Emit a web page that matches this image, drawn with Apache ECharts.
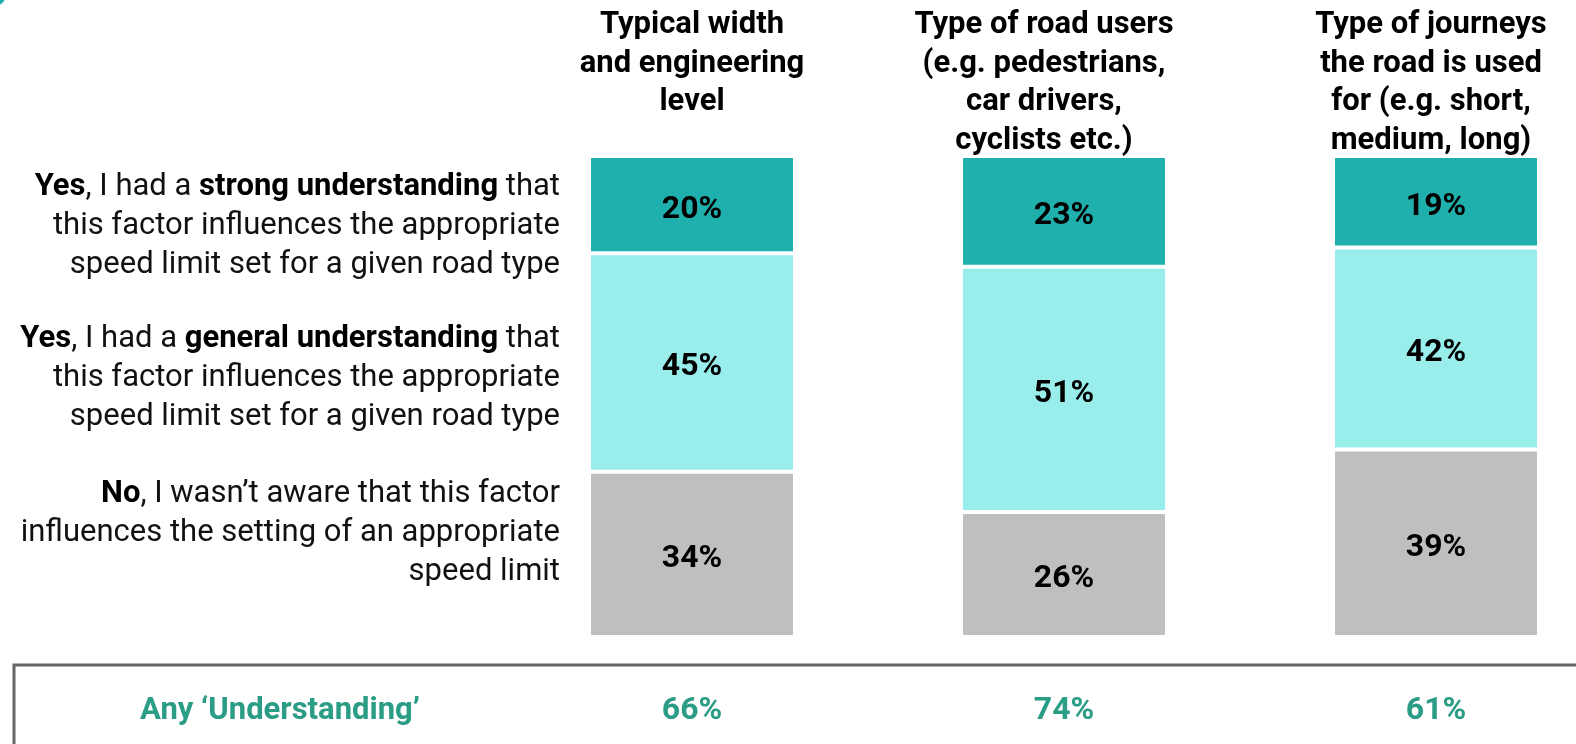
<!DOCTYPE html>
<html>
<head>
<meta charset="utf-8">
<title>Understanding of speed limit factors</title>
<script src="https://cdn.jsdelivr.net/npm/echarts@6/dist/echarts.min.js"></script>
<style>
	html, body { margin: 0; padding: 0; background: #fff; }
	#chart { width: 1576px; height: 744px; }
</style>
</head>
<body>
<div id="chart"></div>
<script>
	"use strict";

	// ______________ DATA
	var categories = [
		'Typical width\nand engineering\nlevel',
		'Type of road users\n(e.g. pedestrians,\ncar drivers,\ncyclists etc.)',
		'Type of journeys\nthe road is used\nfor (e.g. short,\nmedium, long)'
	];
	var strongVals = [20, 23, 19];
	var generalVals = [45, 51, 42];
	var noVals = [34, 26, 39];
	var anyVals = [66, 74, 61];

	var legendTexts = [
		'{b|Yes}, I had a {b|strong understanding} that\nthis factor influences the appropriate\nspeed limit set for a given road type',
		'{b|Yes}, I had a {b|general understanding} that\nthis factor influences the appropriate\nspeed limit set for a given road type',
		'{b|No}, I wasn\u2019t aware that this factor\ninfluences the setting of an appropriate\nspeed limit'
	];

	var TEAL = '#1fb0ae';
	var LIGHT = '#99eeec';
	var GREY = '#bfbfbf';
	var GREEN = '#2b9c85';
	var FONT = 'Roboto, "Noto Sans", sans-serif';

	// ______________ 100% stacking (each bar fills the full height)
	function shares(vals, idx) {
		var total = strongVals[idx] + generalVals[idx] + noVals[idx];
		return vals[idx] / total * 100;
	}

	function makeSeries(name, vals, color) {
		return {
			name: name,
			type: 'bar',
			stack: 'all',
			barWidth: 206,
			data: vals.map(function(v, i) { return shares(vals, i); }),
			itemStyle: { color: color, borderColor: '#fff', borderWidth: 2 },
			label: {
				show: true,
				position: 'inside',
				offset: [0, 5],
				fontFamily: FONT,
				fontSize: 32,
				fontWeight: 'bold',
				color: '#000',
				formatter: function(p) { return vals[p.dataIndex] + '%'; }
			},
			emphasis: { disabled: true }
		};
	}

	// header of the middle column sits a bit left of its bar
	var headerPad = [0, 40, 10];
	var headerData = categories.map(function(c, i) {
		return {
			value: c,
			textStyle: { verticalAlign: 'top', padding: [0, headerPad[i], 0, 0] }
		};
	});

	var chart = echarts.init(document.getElementById('chart'), null, { renderer: 'canvas' });

	var richLegend = {
		b: { fontFamily: FONT, fontSize: 31, fontWeight: 'bold', fill: '#000', lineHeight: 39 },
	};

	var legendY = [226, 378, 533];

	chart.setOption({
		animation: false,
		grid: { left: 506, right: -46, top: 156, bottom: 107, outerBoundsMode: 'none' },
		xAxis: [{
			type: 'category',
			position: 'top',
			data: headerData,
			axisLine: { show: false },
			axisTick: { show: false },
			axisLabel: {
				interval: 0,
				margin: 150,
				verticalAlign: 'top',
				fontFamily: FONT,
				fontSize: 31,
				fontWeight: 'bold',
				lineHeight: 38.5,
				color: '#000'
			}
		}, {
			type: 'category',
			position: 'bottom',
			data: anyVals.map(function(v) { return v + '%'; }),
			axisLine: { show: false },
			axisTick: { show: false },
			axisLabel: {
				interval: 0,
				margin: 74,
				verticalAlign: 'middle',
				fontFamily: FONT,
				fontSize: 32,
				fontWeight: 'bold',
				color: GREEN
			}
		}],
		yAxis: {
			type: 'value',
			min: 0,
			max: 100,
			show: false
		},
		series: [
			makeSeries('No', noVals, GREY),
			makeSeries('General', generalVals, LIGHT),
			makeSeries('Strong', strongVals, TEAL)
		],
		graphic: [
			// corner mark
			{ type: 'circle', shape: { cx: -3, cy: -3, r: 8 }, style: { fill: TEAL } },
			// bottom box
			{ type: 'polyline', shape: { points: [[14, 744], [14, 665], [1576, 665]] }, style: { stroke: '#666', lineWidth: 3, fill: null } },
			{
				type: 'text', x: 280, y: 711,
				style: { text: 'Any \u2018Understanding\u2019', fontFamily: FONT, fontSize: 31, fontWeight: 'bold', fill: GREEN, align: 'center', verticalAlign: 'middle' }
			}
		].concat(legendTexts.map(function(t, i) {
			return {
				type: 'text', x: 560, y: legendY[i],
				style: {
					text: t, rich: richLegend,
					fontFamily: FONT, fontSize: 31, fill: '#111', lineHeight: 39,
					align: 'right', verticalAlign: 'middle'
				}
			};
		}))
	});
</script>
</body>
</html>
